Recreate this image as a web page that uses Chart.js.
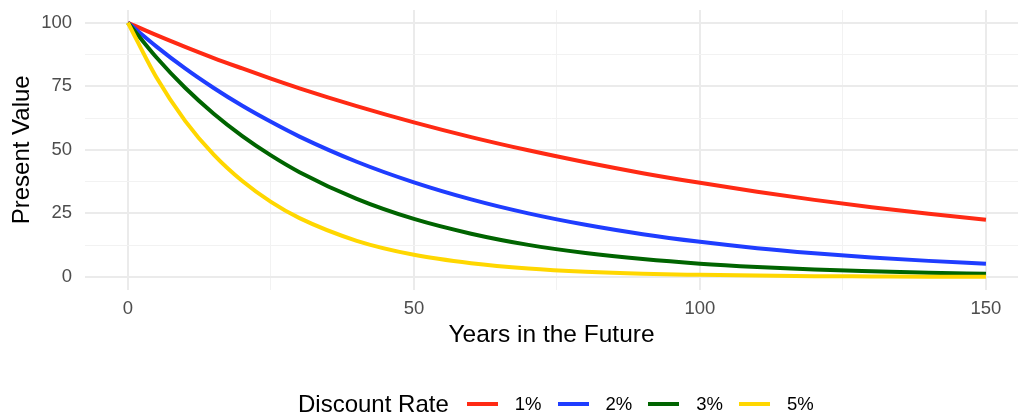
<!DOCTYPE html>
<html>
<head>
<meta charset="utf-8">
<script src="https://cdn.jsdelivr.net/npm/chart.js"></script>
<style>
  body { margin: 0; background: #fff; }
  #wrap { position: relative; width: 1018px; height: 416px; font-family: "Liberation Sans", Arial, sans-serif; }
  #legend { position: absolute; left: 298px; top: 390px; height: 28px; display: flex; align-items: center; color: #000; }
  #legend .title { font-size: 24px; margin-right: 18px; }
  #legend .key { width: 31px; height: 4px; margin-right: 17px; }
  #legend .lab { font-size: 18.5px; margin-right: 16px; }
</style>
</head>
<body>
<div id="wrap">
  <canvas id="pv-chart" width="1018" height="416"></canvas>
  <div id="legend"></div>
</div>
<script>
// years on the x axis
const years = [0, 5, 10, 15, 20, 25, 30, 40, 50, 60, 70, 80, 90, 100, 110, 120, 130, 140, 150];

// present value of 100
const rate1 = [100, 95.1, 90.5, 86.1, 82.0, 78.0, 74.2, 67.2, 60.8, 55.0, 49.8, 45.1, 40.8, 37.0, 33.5, 30.3, 27.4, 24.8, 22.5];
const rate2 = [100, 90.6, 82.0, 74.3, 67.3, 61.0, 55.2, 45.3, 37.2, 30.5, 25.0, 20.5, 16.8, 13.8, 11.3, 9.3, 7.6, 6.3, 5.2];
const rate3 = [100, 86.3, 74.4, 64.2, 55.4, 47.8, 41.2, 30.7, 22.8, 17.0, 12.6, 9.4, 7.0, 5.2, 3.9, 2.9, 2.2, 1.6, 1.2];
const rate5 = [100, 78.4, 61.4, 48.1, 37.7, 29.5, 23.1, 14.2, 8.7, 5.4, 3.3, 2.0, 1.2, 0.8, 0.5, 0.3, 0.2, 0.1, 0.1];

const rateLabels = ['1%', '2%', '3%', '5%'];
const rateColors = ['#ff2a14', '#1f3dff', '#006400', '#ffd700'];

const xTicks = [0, 25, 50, 75, 100, 125, 150];
const yTicks = [0, 12.5, 25, 37.5, 50, 62.5, 75, 87.5, 100];

const fontFamily = '"Liberation Sans", Arial, sans-serif';

function toPoints(vals) {
    return years.map((y, i) => ({ x: y, y: vals[i] }));
}

const series = [rate1, rate2, rate3, rate5];

const datasets = series.map((vals, i) => ({
    label: rateLabels[i],
    data: toPoints(vals),
    borderColor: rateColors[i],
    backgroundColor: rateColors[i],
    borderWidth: 4,
    pointRadius: 0,
    cubicInterpolationMode: 'monotone',
    fill: false,
    order: 3 - i
}));

const ctx = document.getElementById('pv-chart');

const pvChart = new Chart(ctx, {
    type: 'line',
    data: { datasets: datasets },
    options: {
        responsive: false,
        animation: false,
        devicePixelRatio: 1,
        layout: { padding: { left: 0, right: 0, top: 10, bottom: 66 } },
        plugins: {
            legend: { display: false },
            tooltip: { enabled: false }
        },
        scales: {
            x: {
                type: 'linear',
                min: -7.5,
                max: 155.6,
                afterBuildTicks: (scale) => { scale.ticks = xTicks.map(v => ({ value: v })); },
                afterFit: (scale) => {
                    scale.height = 60.4;
                    scale.paddingLeft = 0;
                    scale.paddingRight = 0;
                },
                border: { display: false },
                grid: {
                    drawTicks: false,
                    color: (c) => (c.tick && c.tick.value % 50 === 0) ? '#ebebeb' : '#f2f2f2',
                    lineWidth: (c) => (c.tick && c.tick.value % 50 === 0) ? 2 : 1
                },
                ticks: {
                    padding: 8,
                    color: '#4d4d4d',
                    font: { family: fontFamily, size: 18.5 },
                    maxRotation: 0,
                    callback: (v) => (v % 50 === 0 ? String(v) : '')
                },
                title: {
                    display: true,
                    text: 'Years in the Future',
                    color: '#000',
                    font: { family: fontFamily, size: 24.5, lineHeight: 1.2 },
                    padding: { top: 0, bottom: 0 }
                }
            },
            y: {
                min: -5,
                max: 105,
                afterBuildTicks: (scale) => { scale.ticks = yTicks.map(v => ({ value: v })); },
                afterFit: (scale) => {
                    scale.width = 85;
                    scale.paddingTop = 0;
                    scale.paddingBottom = 0;
                },
                border: { display: false },
                grid: {
                    drawTicks: false,
                    color: (c) => (c.tick && c.tick.value % 25 === 0) ? '#ebebeb' : '#f2f2f2',
                    lineWidth: (c) => (c.tick && c.tick.value % 25 === 0) ? 2 : 1
                },
                ticks: {
                    padding: 13,
                    color: '#4d4d4d',
                    font: { family: fontFamily, size: 18.5 },
                    callback: (v) => (v % 25 === 0 ? String(v) : '')
                },
                title: {
                    display: true,
                    text: 'Present Value',
                    color: '#000',
                    font: { family: fontFamily, size: 24, lineHeight: 1.2 },
                    padding: { top: 8, bottom: 0 }
                }
            }
        }
    }
});

// legend row, ggplot style: title then key + label pairs on one line
const legend = document.getElementById('legend');
let html = '<span class="title">Discount Rate</span>';
rateLabels.forEach((lab, i) => {
    html += '<span class="key" style="background:' + rateColors[i] + '"></span>';
    html += '<span class="lab">' + lab + '</span>';
});
legend.innerHTML = html;
</script>
</body>
</html>
